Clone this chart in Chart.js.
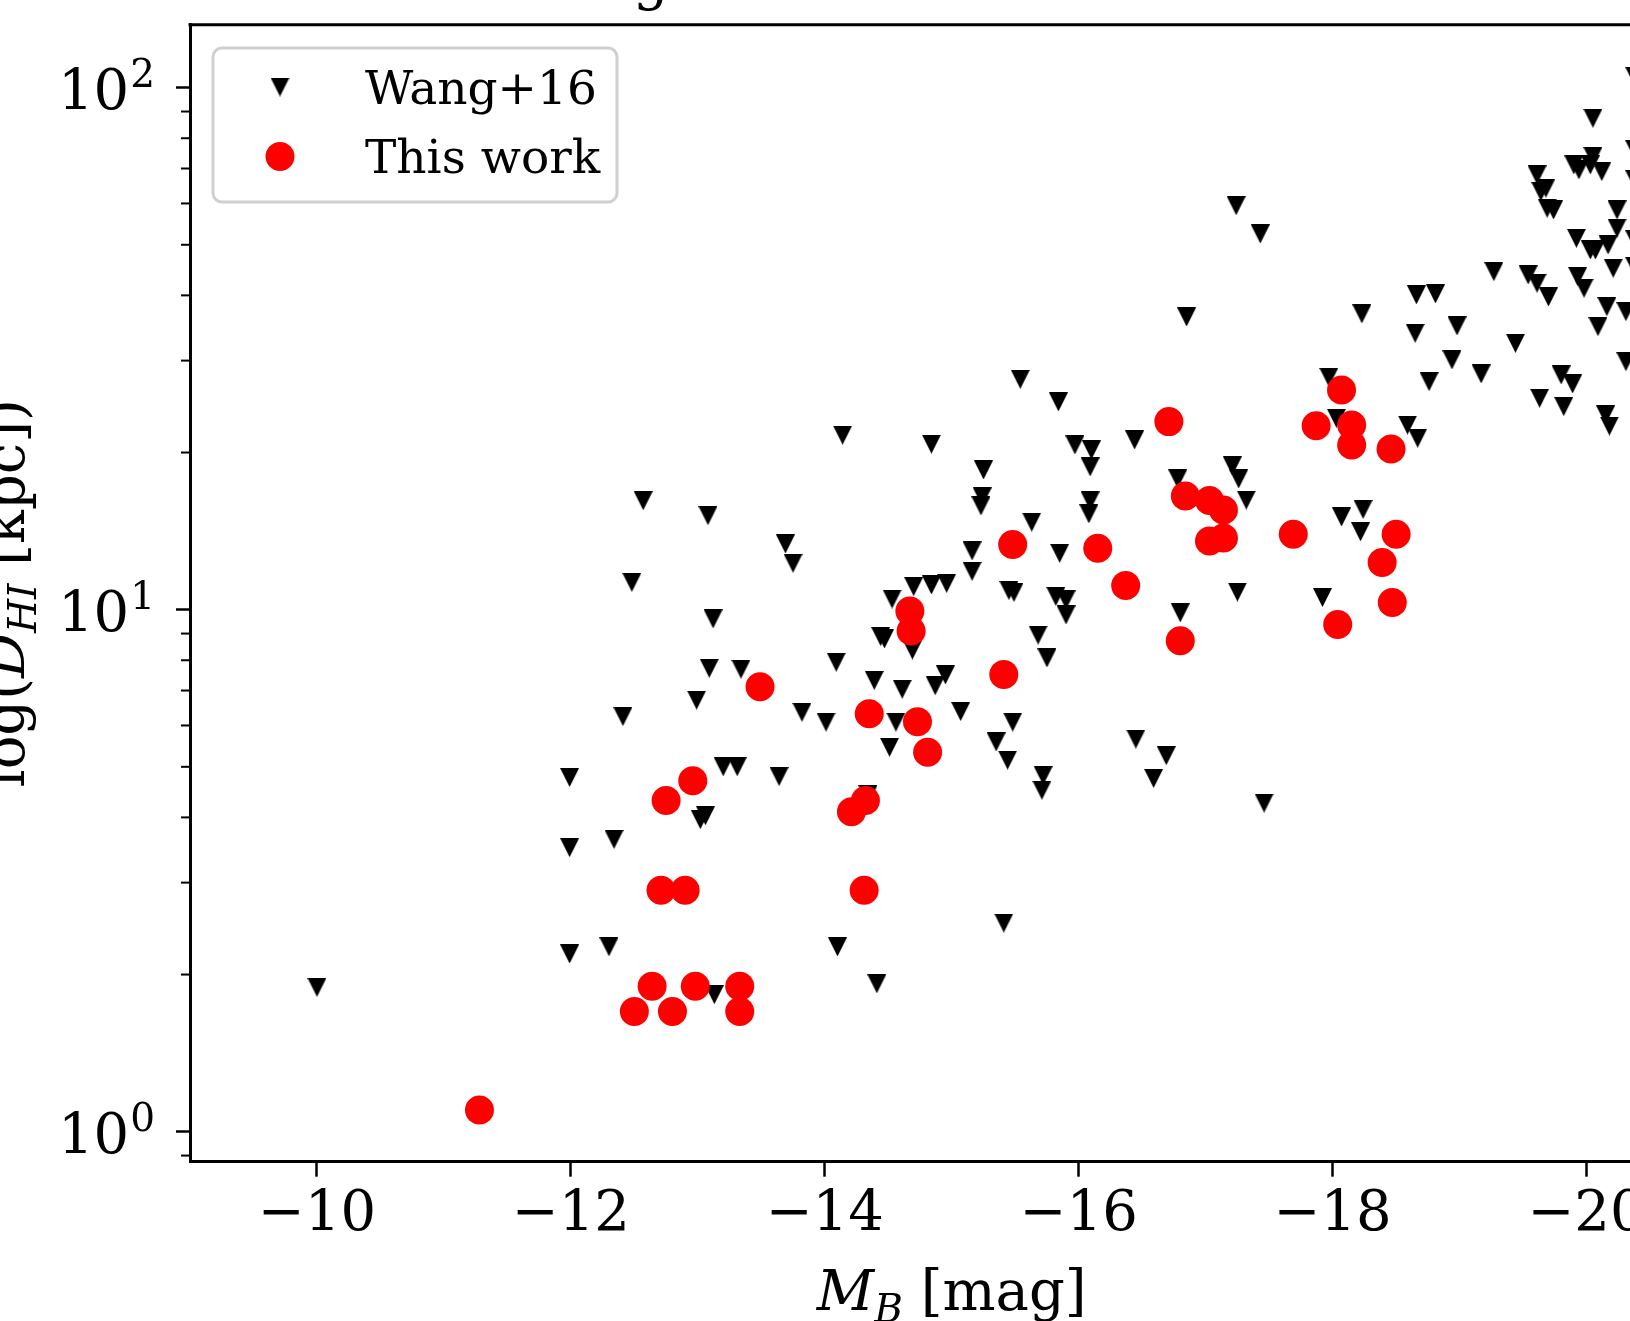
<!DOCTYPE html>
<html>
<head>
<meta charset="utf-8">
<script src="https://cdn.jsdelivr.net/npm/chart.js@4.4.1/dist/chart.umd.min.js"></script>
<style>
  html, body { margin: 0; padding: 0; background: #fff; overflow: hidden; }
  #wrap { position: relative; width: 1630px; height: 1321px; overflow: hidden; }
  #chart { position: absolute; left: 0; top: 0; }
</style>
</head>
<body>
<div id="wrap"><canvas id="chart" width="1740" height="1321"></canvas></div>
<script>
// Wang+16 sample (M_B, D_HI in kpc)
const wangMB = [
  -10.00, -11.99, -11.99, -11.99, -12.30, -12.34, -12.41, -12.48, -12.57, -12.99,
  -13.02, -13.06, -13.08, -13.12, -13.09, -13.34, -13.20, -13.31, -13.13, -13.64,
  -13.69, -13.75, -13.82, -14.01, -14.09, -14.14, -14.10, -14.41, -14.39, -14.44,
  -14.47, -14.34, -14.51, -14.53, -14.56, -14.61, -14.69, -14.70, -14.84, -14.96,
  -14.84, -14.87, -14.95, -15.07, -15.16, -15.16, -15.25, -15.24, -15.23, -15.35,
  -15.41, -15.44, -15.45, -15.49, -15.48, -15.54, -15.63, -15.68, -15.75, -15.72,
  -15.71, -15.84, -15.97, -16.10, -16.09, -16.09, -16.08, -15.85, -15.82, -15.90,
  -15.90, -16.44, -16.45, -16.59, -16.69, -16.78, -16.80, -16.85, -17.21, -17.26,
  -17.32, -17.25, -17.24, -17.43, -17.46, -17.92, -17.97, -18.03, -18.07, -18.24,
  -18.22, -18.23, -18.59, -18.67, -18.65, -18.66, -18.81, -18.76, -18.94, -18.98,
  -19.17, -19.27, -19.44, -19.54, -19.61, -19.70, -19.63, -19.80, -19.89, -19.82,
  -19.93, -19.98, -20.09, -20.16, -20.15, -20.18, -20.31, -20.31, -20.05, -20.05,
  -19.90, -19.94, -20.03, -20.12, -19.61, -19.68, -19.64, -19.69, -19.74, -20.24,
  -20.24, -19.92, -20.03, -20.07, -20.17, -20.21, -20.38, -20.38, -20.38, -20.38,
  -20.38
];
const wangD = [
  1.89, 4.77, 3.50, 2.19, 2.26, 3.63, 6.24, 11.28, 16.17, 6.71,
  3.96, 4.03, 15.14, 9.60, 7.72, 7.69, 5.00, 5.00, 1.83, 4.79,
  13.36, 12.27, 6.36, 6.09, 7.93, 21.59, 2.26, 1.92, 7.32, 8.88,
  8.79, 4.42, 5.45, 10.48, 6.09, 7.04, 8.37, 11.07, 11.15, 11.23,
  20.75, 7.15, 7.50, 6.38, 12.96, 11.84, 18.52, 16.44, 15.80, 5.58,
  2.51, 5.15, 10.88, 10.79, 6.09, 27.62, 14.71, 8.94, 8.08, 4.81,
  4.51, 25.0, 20.68, 20.23, 18.77, 16.15, 15.26, 12.82, 10.60, 10.44,
  9.77, 21.14, 5.65, 4.75, 5.25, 17.80, 9.86, 36.37, 18.85, 17.80,
  16.22, 10.81, 59.41, 52.45, 4.26, 10.55, 27.87, 23.26, 15.05, 15.56,
  14.10, 36.86, 22.58, 21.30, 33.84, 40.09, 40.26, 27.34, 30.09, 34.95,
  28.28, 44.41, 32.38, 43.77, 42.20, 39.72, 25.41, 28.16, 27.06, 24.49,
  43.45, 41.28, 34.84, 38.06, 23.60, 22.48, 37.23, 29.86, 87.37, 73.77,
  71.12, 69.56, 71.12, 69.05, 68.06, 64.18, 63.23, 58.75, 58.30, 58.30,
  53.79, 51.46, 48.87, 48.87, 49.96, 45.08, 105.0, 76.0, 66.6, 51.1,
  45.4
];

// This work (M_B, D_HI in kpc)
const workMB = [
  -11.28, -12.50, -12.64, -12.80, -12.98, -13.33, -13.33, -12.71, -12.90, -12.75,
  -12.96, -13.49, -14.21, -14.32, -14.31, -14.35, -14.67, -14.68, -14.73, -14.81,
  -15.41, -15.48, -16.15, -16.37, -16.71, -16.80, -16.84, -17.03, -17.14, -17.03,
  -17.14, -17.69, -17.87, -18.07, -18.15, -18.15, -18.04, -18.46, -18.50, -18.39,
  -18.47
];
const workD = [
  1.10, 1.70, 1.90, 1.70, 1.90, 1.90, 1.70, 2.90, 2.90, 4.31,
  4.70, 7.12, 4.10, 4.31, 2.90, 6.32, 9.94, 9.10, 6.10, 5.33,
  7.51, 13.33, 13.11, 11.12, 22.92, 8.72, 16.51, 16.19, 15.52, 13.54,
  13.72, 13.94, 22.51, 26.36, 22.58, 20.68, 9.37, 20.32, 13.94, 12.31,
  10.32
];

const xTicks = [-10, -12, -14, -16, -18, -20];
const yMajor = [1, 10, 100];
const yMinor = [0.9, 2, 3, 4, 5, 6, 7, 8, 9, 20, 30, 40, 50, 60, 70, 80, 90];
const xRange = [-21, -9];
const yRange = [0.876, 132];

const SERIF = '"DejaVu Serif", serif';

function triangleDown(size, color) {
  const c = document.createElement('canvas');
  c.width = size; c.height = size;
  const g = c.getContext('2d');
  g.fillStyle = color;
  g.beginPath();
  g.moveTo(0, 0); g.lineTo(size, 0); g.lineTo(size / 2, size);
  g.closePath(); g.fill();
  return c;
}
const triMarker = triangleDown(19, '#000000');

function isMajor(v) {
  const l = Math.log10(v);
  return Math.abs(l - Math.round(l)) < 1e-9;
}

// draw a row of text pieces (mixed fonts / subscripts) centred on 0
function drawPieces(ctx, pieces) {
  let total = 0;
  pieces.forEach(p => { ctx.font = p.font; p.w = ctx.measureText(p.t).width; total += p.w; });
  let x = -total / 2;
  pieces.forEach(p => {
    ctx.font = p.font;
    ctx.fillText(p.t, x, p.dy || 0);
    x += p.w;
  });
}

const decorations = {
  id: 'decorations',
  afterDraw(chart) {
    const { ctx, chartArea: a, scales: { y } } = chart;
    ctx.save();
    ctx.strokeStyle = '#000';
    ctx.fillStyle = '#000';

    // top spine
    ctx.lineWidth = 3;
    ctx.beginPath(); ctx.moveTo(a.left - 1.5, a.top); ctx.lineTo(a.right + 1.5, a.top); ctx.stroke();

    // minor ticks on the log axis
    ctx.lineWidth = 2;
    yMinor.forEach(v => {
      const py = y.getPixelForValue(v);
      ctx.beginPath(); ctx.moveTo(a.left - 9, py); ctx.lineTo(a.left, py); ctx.stroke();
    });

    ctx.textBaseline = 'alphabetic';
    ctx.textAlign = 'left';

    // y tick labels 10^n with a raised exponent
    yMajor.forEach(v => {
      const py = y.getPixelForValue(v);
      const exp = String(Math.round(Math.log10(v)));
      ctx.font = '56px ' + SERIF;
      const wb = ctx.measureText('10').width;
      ctx.font = '39px ' + SERIF;
      const we = ctx.measureText(exp).width;
      const x0 = 154 - wb - we;
      ctx.font = '56px ' + SERIF;
      ctx.fillText('10', x0, py + 21);
      ctx.font = '39px ' + SERIF;
      ctx.fillText(exp, x0 + wb + 1, py - 1);
    });

    const cx = (a.left + a.right) / 2;

    // title (only the bottom of it falls inside the picture)
    ctx.font = '56px ' + SERIF;
    const title = 'HI size-magnitude relation';
    const pre = ctx.measureText('HI size-ma').width;
    const gw = ctx.measureText('g').width;
    ctx.fillText(title, 651 - pre - gw / 2, -1);

    // x axis label
    ctx.save();
    ctx.translate(cx, 1310);
    drawPieces(ctx, [
      { t: 'M', font: 'italic 56px ' + SERIF },
      { t: 'B', font: 'italic 39px ' + SERIF, dy: 12 },
      { t: ' [mag]', font: '56px ' + SERIF }
    ]);
    ctx.restore();

    // y axis label
    ctx.save();
    ctx.translate(24, (a.top + a.bottom) / 2);
    ctx.rotate(-Math.PI / 2);
    drawPieces(ctx, [
      { t: 'log(', font: '56px ' + SERIF },
      { t: 'D', font: 'italic 56px ' + SERIF },
      { t: 'HI', font: 'italic 39px ' + SERIF, dy: 12 },
      { t: ' [kpc])', font: '56px ' + SERIF }
    ]);
    ctx.restore();

    // legend
    const lx = 213, ly = 48, lw = 404, lh = 154, r = 9;
    ctx.beginPath();
    ctx.moveTo(lx + r, ly);
    ctx.arcTo(lx + lw, ly, lx + lw, ly + lh, r);
    ctx.arcTo(lx + lw, ly + lh, lx, ly + lh, r);
    ctx.arcTo(lx, ly + lh, lx, ly, r);
    ctx.arcTo(lx, ly, lx + lw, ly, r);
    ctx.closePath();
    ctx.fillStyle = 'rgba(255,255,255,0.8)';
    ctx.fill();
    ctx.strokeStyle = '#d0d0d0';
    ctx.lineWidth = 3;
    ctx.stroke();

    const ds = chart.data.datasets;
    ctx.drawImage(triMarker, 280 - triMarker.width / 2, 87 - triMarker.height / 2);
    ctx.fillStyle = ds[1].backgroundColor;
    ctx.beginPath(); ctx.arc(280, 156.5, ds[1].pointRadius, 0, Math.PI * 2); ctx.fill();

    ctx.fillStyle = '#000';
    ctx.font = '47px ' + SERIF;
    ctx.fillText(ds[0].label, 365, 104);
    ctx.fillText(ds[1].label, 365, 173);

    ctx.restore();
  }
};

const wangPts = wangMB.map((m, i) => ({ x: m, y: wangD[i] }));
const workPts = workMB.map((m, i) => ({ x: m, y: workD[i] }));

new Chart(document.getElementById('chart'), {
  type: 'scatter',
  data: {
    datasets: [
      {
        label: 'Wang+16',
        data: wangPts,
        pointStyle: triMarker,
        pointRadius: 9.5,
        backgroundColor: '#000000',
        borderWidth: 0,
        order: 2
      },
      {
        label: 'This work',
        data: workPts,
        pointStyle: 'circle',
        pointRadius: 14.5,
        backgroundColor: '#ff0000',
        borderWidth: 0,
        order: 1
      }
    ]
  },
  options: {
    responsive: false,
    animation: false,
    devicePixelRatio: 1,
    layout: { padding: { left: 0, right: 26.5, top: 24.7, bottom: 39.3 } },
    plugins: { legend: { display: false }, tooltip: { enabled: false } },
    scales: {
      x: {
        type: 'linear',
        reverse: true,
        min: xRange[0],
        max: xRange[1],
        afterBuildTicks: s => { s.ticks = xTicks.map(v => ({ value: v })); },
        afterFit: s => { s.height = 120; s.paddingLeft = 0; s.paddingRight = 0; },
        ticks: {
          callback: v => '\u2212' + Math.abs(v),
          font: { family: SERIF, size: 56, lineHeight: 1.2 },
          color: '#000',
          padding: 5,
          maxRotation: 0,
          autoSkip: false
        },
        grid: { display: true, drawOnChartArea: false, drawTicks: true, tickLength: 15, tickWidth: 2.5, tickColor: '#000' },
        border: { display: true, color: '#000', width: 3 }
      },
      y: {
        type: 'logarithmic',
        min: yRange[0],
        max: yRange[1],
        afterBuildTicks: s => { s.ticks = yMajor.concat(yMinor).map(v => ({ value: v })); },
        afterFit: s => { s.width = 190; s.paddingTop = 0; s.paddingBottom = 0; },
        ticks: { display: false, autoSkip: false },
        grid: {
          display: true, drawOnChartArea: false, drawTicks: true, tickLength: 14, tickWidth: 2.5,
          tickColor: c => (c.tick && isMajor(c.tick.value)) ? '#000' : 'rgba(0,0,0,0)'
        },
        border: { display: true, color: '#000', width: 3 }
      }
    }
  },
  plugins: [decorations]
});
</script>
</body>
</html>
